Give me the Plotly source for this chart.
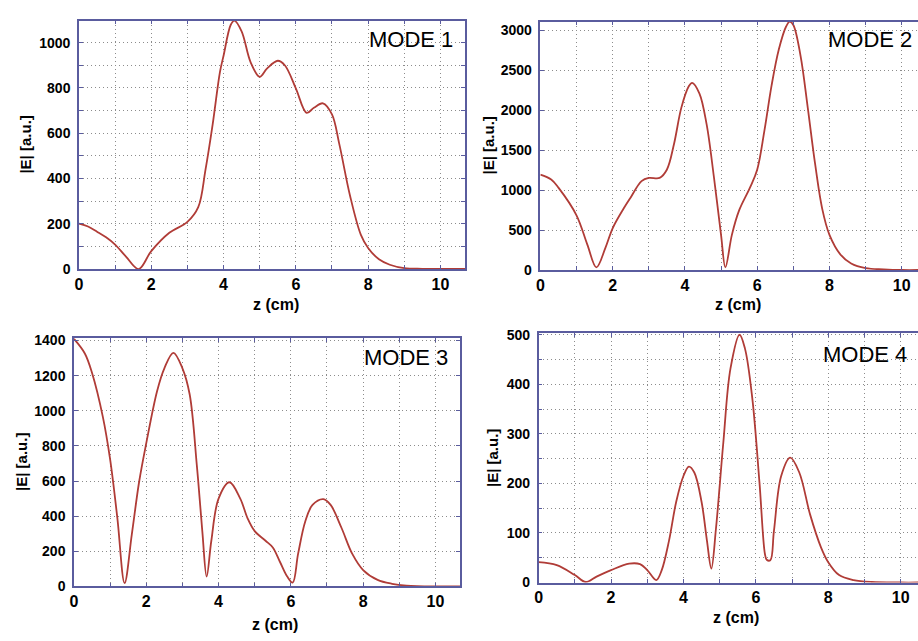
import plotly.graph_objects as go

# ---------------- data ----------------
z1 = [0, 0.25, 0.5, 0.75, 1.0, 1.3, 1.65, 2.0, 2.5, 3.0, 3.3, 3.5, 3.7, 3.9, 4.0, 4.2, 4.3,
      4.5, 4.75, 5.0, 5.2, 5.5, 5.7, 6.0, 6.3, 6.5, 6.75, 7.0, 7.2, 7.5, 7.8, 8.0, 8.3,
      8.6, 9.0, 9.5, 10.0, 10.7]
e1 = [200, 188, 165, 140, 108, 55, 0, 79, 160, 208, 273, 438, 640, 870, 942, 1079, 1097,
      1050, 913, 849, 885, 920, 899, 798, 690, 712, 732, 683, 554, 324, 151, 93, 43,
      19, 4, 1, 0, 0]

z2 = [0, 0.3, 0.5, 1.0, 1.3, 1.55, 1.8, 2.0, 2.3, 2.5, 2.8, 3.0, 3.3, 3.5, 3.7, 3.9, 4.1,
      4.2, 4.4, 4.6, 4.8, 5.0, 5.12, 5.3, 5.5, 5.8, 6.0, 6.2, 6.4, 6.6, 6.8, 6.9, 7.0,
      7.2, 7.4, 7.6, 7.8, 8.0, 8.3, 8.6, 9.0, 9.5, 10.0, 10.5]
e2 = [1194, 1133, 1031, 685, 318, 33, 277, 522, 766, 909, 1113, 1153, 1153, 1255, 1581,
      2030, 2295, 2344, 2213, 1826, 1174, 440, 33, 440, 746, 1031, 1255, 1745, 2315, 2764,
      3049, 3110, 3069, 2682, 2030, 1337, 766, 440, 196, 82, 24, 8, 0, 0]

z3 = [0, 0.3, 0.5, 0.8, 1.0, 1.2, 1.4, 1.6, 1.8, 2.0, 2.3, 2.5, 2.75, 3.0, 3.2, 3.4, 3.55,
      3.67, 3.8, 4.0, 4.3, 4.6, 4.8, 5.0, 5.3, 5.5, 5.7, 5.9, 6.05, 6.2, 6.4, 6.6, 6.9,
      7.1, 7.4, 7.7, 8.0, 8.4, 8.8, 9.2, 10.0, 10.7]
e3 = [1409, 1326, 1215, 964, 723, 389, 19, 297, 593, 816, 1113, 1242, 1330, 1242, 1094,
      686, 315, 56, 260, 500, 593, 500, 389, 315, 260, 222, 139, 56, 22, 185, 371, 464,
      497, 464, 334, 185, 93, 37, 15, 5, 0, 0]

z4 = [0, 0.5, 1.0, 1.3, 1.6, 2.0, 2.5, 2.8, 3.0, 3.25, 3.4, 3.6, 3.8, 4.0, 4.15, 4.3, 4.5,
      4.65, 4.77, 4.9, 5.1, 5.3, 5.55, 5.7, 5.9, 6.1, 6.25, 6.3, 6.4, 6.5, 6.7, 6.95, 7.2,
      7.5, 7.8, 8.0, 8.3, 8.7, 9.2, 10.0, 10.5]
e4 = [41, 35, 15, 1, 12, 25, 38, 37, 25, 5, 25, 84, 163, 215, 234, 222, 163, 84, 28, 110,
      281, 432, 500, 472, 373, 202, 58, 46, 45, 104, 215, 252, 222, 137, 71, 41, 15, 5, 1,
      0, 0]

mode_labels = ["MODE 1", "MODE 2", "MODE 3", "MODE 4"]
x_title = "z (cm)"
y_title = "|E| [a.u.]"

# ---------------- styling ----------------
W, H = 918, 641
FRAME = "#5a5c9e"
CURVE = "#b03c37"
GRID = "#8c8c8c"
GDASH = "1px,3px"
FONT = "Liberation Sans, Arial, sans-serif"

def px(x):
    return x / W

def py(y):
    return 1 - y / H

panels = [
    dict(l=75.3, r=463, t=14, b=268.3, xr=[0, 10.68], yr=[0, 1097], ydt=200, ymin=100, mirror_y=True,
         z=z1, e=e1),
    dict(l=538.7, r=918, t=15, b=269.3, xr=[0, 10.45], yr=[0, 3110], ydt=500, ymin=None, mirror_y=False,
         z=z2, e=e2),
    dict(l=70.3, r=458, t=339, b=593.3, xr=[0, 10.68], yr=[0, 1414], ydt=200, ymin=None, mirror_y=True,
         z=z3, e=e3),
    dict(l=537, r=918, t=334.3, b=589.3, xr=[0, 10.48], yr=[0, 502.6], ydt=100, ymin=50, mirror_y=False,
         z=z4, e=e4),
]

mode_pos = [(453, 33), (914, 33), (448, 359), (909, 356)]
ytitle_pos = [(22, 141), (487, 142), (17, 466), (490, 462)]
xtitle_pos = [(273, 305), (737, 305), (272, 632), (735, 625)]

fig = go.Figure()
layout = dict(
    width=W, height=H,
    margin=dict(l=0, r=0, t=0, b=0),
    paper_bgcolor="white", plot_bgcolor="white",
    showlegend=False,
    font=dict(family=FONT, color="black"),
)

annotations = []
for i, p in enumerate(panels):
    n = i + 1
    xa = "xaxis" if n == 1 else f"xaxis{n}"
    ya = "yaxis" if n == 1 else f"yaxis{n}"
    xref = "x" if n == 1 else f"x{n}"
    yref = "y" if n == 1 else f"y{n}"

    fig.add_trace(go.Scatter(
        x=p["z"], y=p["e"], mode="lines",
        line=dict(color=CURVE, width=1.8, shape="spline", smoothing=1.0),
        xaxis=xref, yaxis=yref, hoverinfo="skip",
    ))

    layout[xa] = dict(
        domain=[px(p["l"]), px(p["r"])], anchor=yref,
        range=p["xr"], dtick=2, tick0=0,
        showline=True, linecolor=FRAME, linewidth=1.5, mirror="allticks",
        ticks="inside", ticklen=4, tickcolor=FRAME,
        showgrid=True, gridcolor=GRID, griddash=GDASH, gridwidth=1,
        zeroline=False,
        tickfont=dict(family=FONT, size=16, color="black", weight="bold"),
        minor=dict(dtick=1, tick0=0, showgrid=True, gridcolor=GRID, griddash=GDASH,
                   ticks="inside", ticklen=4, tickcolor=FRAME),
    )
    ydict = dict(
        domain=[py(p["b"]), py(p["t"])], anchor=xref,
        range=p["yr"], dtick=p["ydt"], tick0=0,
        showline=True, linecolor=FRAME, linewidth=1.5,
        mirror="allticks" if p["mirror_y"] else False,
        ticks="inside", ticklen=4, tickcolor=FRAME,
        showgrid=True, gridcolor=GRID, griddash=GDASH, gridwidth=1,
        zeroline=False,
        tickfont=dict(family=FONT, size=14, color="black", weight="bold"),
        ticklabelstandoff=4,
    )
    if p["ymin"]:
        ydict["minor"] = dict(dtick=p["ymin"], tick0=0, showgrid=True, gridcolor=GRID,
                              griddash=GDASH, ticks="inside", ticklen=4, tickcolor=FRAME)
    layout[ya] = ydict

    mx, my = mode_pos[i]
    annotations.append(dict(
        text=mode_labels[i], x=px(mx), y=py(my), xref="paper", yref="paper",
        xanchor="right", yanchor="middle", showarrow=False,
        font=dict(family=FONT, size=22, color="black"),
    ))
    tx, ty = ytitle_pos[i]
    annotations.append(dict(
        text=y_title, x=px(tx), y=py(ty), xref="paper", yref="paper",
        xanchor="center", yanchor="middle", showarrow=False, textangle=-90,
        font=dict(family=FONT, size=15, color="black", weight="bold"),
    ))
    tx, ty = xtitle_pos[i]
    annotations.append(dict(
        text=x_title, x=px(tx), y=py(ty), xref="paper", yref="paper",
        xanchor="center", yanchor="middle", showarrow=False,
        font=dict(family=FONT, size=16, color="black", weight="bold"),
    ))

layout["annotations"] = annotations
fig.update_layout(**layout)
fig.write_html(
    "out.html",
    config={"displayModeBar": False},
    post_script="document.body.style.margin='0';document.body.style.overflow='hidden';",
)
